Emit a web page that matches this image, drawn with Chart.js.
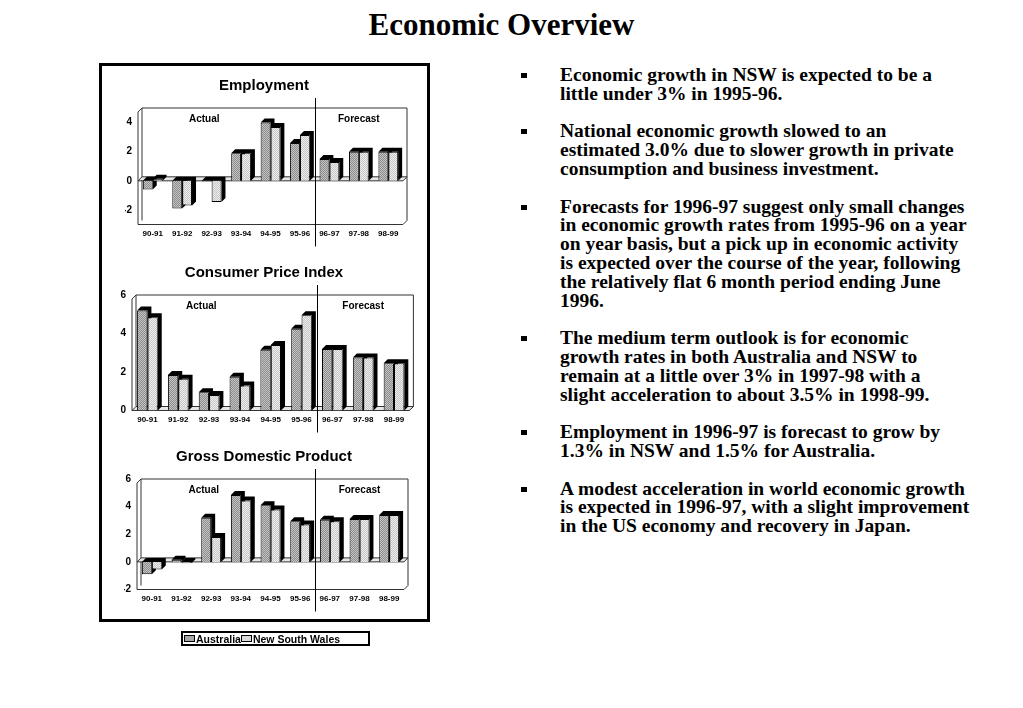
<!DOCTYPE html>
<html>
<head>
<meta charset="utf-8">
<script src="https://cdn.jsdelivr.net/npm/chart.js@4.4.0/dist/chart.umd.min.js"></script>
<style>
  body { margin: 0; width: 1023px; height: 708px; background: #fff; position: relative; overflow: hidden; }
  #title { position: absolute; left: 0; width: 1003px; top: 9px; text-align: center;
           font: bold 31px/31px 'Liberation Serif', 'Times New Roman', serif; color: #000; }
  #box { position: absolute; left: 99px; top: 63px; width: 331px; height: 559px;
         border: 3px solid #000; box-sizing: border-box; }
  canvas { position: absolute; }
  #legend { position: absolute; left: 181px; top: 631px; width: 189px; height: 15px;
            border: 2px solid #000; box-sizing: border-box; display: flex; align-items: center;
            font: bold 10.5px 'Liberation Sans', Arial, sans-serif; color: #000; padding-left: 1px; white-space: nowrap; }
  #legend .sw { display: inline-block; width: 9px; height: 5px; border: 1px solid #000; margin-right: 1px; }
  #notes { position: absolute; left: 560px; top: 66px; font: bold 19.5px/18.8px 'Liberation Serif', 'Times New Roman', serif;
           color: #000; white-space: nowrap; }
  #notes p { margin: 0 0 18.8px 0; position: relative; }
  #notes p::before { content: ''; position: absolute; left: -39px; top: 7px; width: 6px; height: 5px; background: #000; }
</style>
</head>
<body>
<div id="title">Economic Overview</div>
<div id="box"></div>
<canvas id="empChart" width="322" height="186" style="left:103px; top:65px"></canvas>
<canvas id="cpiChart" width="322" height="186" style="left:103px; top:252px"></canvas>
<canvas id="gdpChart" width="322" height="180" style="left:103px; top:436px"></canvas>
<div id="legend"></div>
<div id="notes">
  <p>Economic growth in NSW is expected to be a<br>little under 3% in 1995-96.</p>
  <p>National economic growth slowed to an<br>estimated 3.0% due to slower growth in private<br>consumption and business investment.</p>
  <p>Forecasts for 1996-97 suggest only small changes<br>in economic growth rates from 1995-96 on a year<br>on year basis, but a pick up in economic activity<br>is expected over the course of the year, following<br>the relatively flat 6 month period ending June<br>1996.</p>
  <p>The medium term outlook is for economic<br>growth rates in both Australia and NSW to<br>remain at a little over 3% in 1997-98 with a<br>slight acceleration to about 3.5% in 1998-99.</p>
  <p>Employment in 1996-97 is forecast to grow by<br>1.3% in NSW and 1.5% for Australia.</p>
  <p>A modest acceleration in world economic growth<br>is expected in 1996-97, with a slight improvement<br>in the US economy and recovery in Japan.</p>
</div>
<script>
const periods = ['90-91', '91-92', '92-93', '93-94', '94-95', '95-96', '96-97', '97-98', '98-99'];
const seriesNames = ['Australia', 'New South Wales'];

const empAus = [-0.6, -1.9, -0.05, 1.9, 4.0, 2.6, 1.5, 2.0, 2.0];
const empNsw = [0.15, -1.7, -1.45, 1.9, 3.7, 3.15, 1.3, 2.0, 2.0];
const empTicks = [-2, 0, 2, 4];

const cpiAus = [5.2, 1.85, 0.95, 1.75, 3.15, 4.25, 3.2, 2.75, 2.45];
const cpiNsw = [4.85, 1.65, 0.8, 1.3, 3.4, 4.95, 3.2, 2.75, 2.45];
const cpiTicks = [0, 2, 4, 6];

const gdpAus = [-0.9, 0.15, 3.2, 4.85, 4.1, 2.95, 3.05, 3.1, 3.4];
const gdpNsw = [-0.55, -0.1, 1.8, 4.45, 3.8, 2.7, 2.95, 3.1, 3.4];
const gdpTicks = [-2, 0, 2, 4, 6];

Chart.defaults.font.family = "'Liberation Sans', Arial, sans-serif";
Chart.defaults.color = '#000';

// dotted grey fills like the old printout
function dotFill(base, dot) {
    const c = document.createElement('canvas');
    c.width = 2; c.height = 2;
    const g = c.getContext('2d');
    g.fillStyle = base; g.fillRect(0, 0, 2, 2);
    g.fillStyle = dot; g.fillRect(0, 0, 1, 1); g.fillRect(1, 1, 1, 1);
    return g.createPattern(c, 'repeat');
}
const ausFill = dotFill('#c4c4c4', '#8c8c8c');
const nswFill = dotFill('#eeeeee', '#c6c6c6');

const depth = 4; // size of the fake 3D offset

const box3d = {
    id: 'box3d',
    beforeDatasetsDraw(chart) {
        const { ctx, chartArea: a, scales } = chart;
        const d = depth;
        ctx.save();
        ctx.strokeStyle = '#333';
        ctx.lineWidth = 1;
        // walls of the box
        ctx.beginPath();
        ctx.moveTo(a.left, a.bottom);
        ctx.lineTo(a.left, a.top + d);
        ctx.lineTo(a.left + d, a.top);
        ctx.lineTo(a.right + d, a.top);
        ctx.lineTo(a.right + d, a.bottom - d);
        ctx.lineTo(a.right, a.bottom);
        ctx.closePath();
        ctx.stroke();
        ctx.beginPath();
        ctx.moveTo(a.left + d, a.top);
        ctx.lineTo(a.left + d, a.bottom - d);
        ctx.stroke();
        // zero plane
        const y0 = scales.y.getPixelForValue(0);
        ctx.beginPath();
        ctx.moveTo(a.left, y0);
        ctx.lineTo(a.left + d, y0 - d);
        ctx.lineTo(a.right + d, y0 - d);
        ctx.lineTo(a.right, y0);
        ctx.closePath();
        ctx.fillStyle = '#e6e6e6';
        ctx.fill();
        ctx.stroke();
        // black tops and sides of the bars, drawn behind the front faces
        ctx.fillStyle = '#000';
        chart.data.datasets.forEach((ds, i) => {
            chart.getDatasetMeta(i).data.forEach(bar => {
                const top = Math.min(bar.y, bar.base), bot = Math.max(bar.y, bar.base);
                const l = bar.x - bar.width / 2, r = bar.x + bar.width / 2;
                ctx.beginPath();
                ctx.moveTo(l, top);
                ctx.lineTo(l + d, top - d);
                ctx.lineTo(r + d, top - d);
                ctx.lineTo(r + d, bot - d);
                ctx.lineTo(r, bot);
                ctx.lineTo(r, top);
                ctx.closePath();
                ctx.fill();
            });
        });
        ctx.restore();
    },
    afterDraw(chart) {
        const { ctx, chartArea: a, scales: { x } } = chart;
        ctx.save();
        // actual / forecast split
        const xs = Math.round(x.getPixelForValue(5.5)) + 0.5;
        ctx.strokeStyle = '#000';
        ctx.lineWidth = 1;
        ctx.beginPath();
        ctx.moveTo(xs, a.top - 10);
        ctx.lineTo(xs, a.bottom + 22);
        ctx.stroke();
        ctx.font = "bold 10px 'Liberation Sans', Arial, sans-serif";
        ctx.fillStyle = '#000';
        ctx.textAlign = 'center';
        ctx.textBaseline = 'middle';
        ctx.fillText('Actual', x.getPixelForValue(1.75), a.top + 11);
        ctx.fillText('Forecast', x.getPixelForValue(7.0), a.top + 11);
        ctx.restore();
    }
};

// side padding is the same on both sides so the title stays centred on the canvas,
// the y labels just spill into the left padding
function makeChart(id, title, aus, nsw, min, max, tickVals, yWidth, padSide, padBottom) {
    return new Chart(document.getElementById(id), {
        type: 'bar',
        data: {
            labels: periods,
            datasets: [
                { label: seriesNames[0], data: aus, backgroundColor: ausFill, borderColor: '#000', borderWidth: 1,
                  barPercentage: 1, categoryPercentage: 0.67 },
                { label: seriesNames[1], data: nsw, backgroundColor: nswFill, borderColor: '#000', borderWidth: 1,
                  barPercentage: 1, categoryPercentage: 0.67 }
            ]
        },
        options: {
            responsive: false,
            animation: false,
            layout: { padding: { left: padSide, right: padSide, top: 0, bottom: padBottom } },
            plugins: {
                legend: { display: false },
                tooltip: { enabled: false },
                title: {
                    display: true,
                    text: title,
                    color: '#000',
                    font: { size: 15, weight: 'bold' },
                    padding: { top: 12, bottom: 13 }
                }
            },
            scales: {
                x: {
                    grid: { display: false, drawTicks: false },
                    border: { display: false },
                    ticks: { font: { size: 8, weight: 'bold' }, color: '#000', padding: 4, maxRotation: 0, autoSkip: false },
                    afterFit: s => { s.height = 18; }
                },
                y: {
                    min: min,
                    max: max,
                    grid: { display: false, drawTicks: false },
                    border: { display: false },
                    ticks: { font: { size: 10, weight: 'bold' }, color: '#000', padding: 6 },
                    afterBuildTicks: s => { s.ticks = tickVals.map(v => ({ value: v })); },
                    afterFit: s => { s.width = yWidth; }
                }
            }
        },
        plugins: [box3d]
    });
}

makeChart('empChart', 'Employment', empAus, empNsw, -3, 5, empTicks, 13, 22, 8.5);
makeChart('cpiChart', 'Consumer Price Index', cpiAus, cpiNsw, 0, 6, cpiTicks, 13.4, 15.6, 9.5);
makeChart('gdpChart', 'Gross Domestic Product', gdpAus, gdpNsw, -2, 6, gdpTicks, 13, 21, 8.5);

// shared legend under the box
const legend = document.getElementById('legend');
const swatchColors = ['#a8a8a8', '#dadada'];
seriesNames.forEach((name, i) => {
    const sw = document.createElement('span');
    sw.className = 'sw';
    sw.style.background = swatchColors[i];
    legend.appendChild(sw);
    legend.appendChild(document.createTextNode(name));
});
</script>
</body>
</html>
